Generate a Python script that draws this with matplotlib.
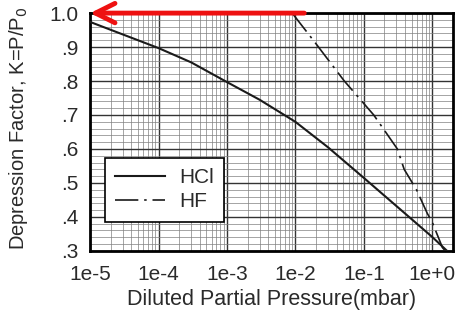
import numpy as np
import matplotlib
matplotlib.use("Agg")
import matplotlib.pyplot as plt
from matplotlib.ticker import MultipleLocator, LogLocator, NullFormatter

plt.rcParams['font.family'] = ['Liberation Sans', 'DejaVu Sans']

hcl_p = [1e-5, 1e-4, 3e-4, 1e-3, 3e-3, 1e-2, 3e-2, 1e-1, 3e-1, 1.0, 1.65]
hcl_k = [0.974, 0.897, 0.855, 0.797, 0.745, 0.68, 0.605, 0.515, 0.432, 0.341, 0.30]

hf_p = [9e-3, 2e-2, 5.2e-2, 0.14, 0.31, 0.39, 0.59, 0.85, 1.0, 1.41, 1.55]
hf_k = [1.0, 0.91, 0.80, 0.70, 0.60, 0.54, 0.48, 0.41, 0.385, 0.31, 0.30]

arrow_p = [1.35e-2, 1e-5]
arrow_k = [1.0, 1.0]

xticks = [1e-5, 1e-4, 1e-3, 1e-2, 1e-1, 1e0]
xticklabels = ['1e-5', '1e-4', '1e-3', '1e-2', '1e-1', '1e+0']
yticks = [0.3, 0.4, 0.5, 0.6, 0.7, 0.8, 0.9, 1.0]
yticklabels = ['.3', '.4', '.5', '.6', '.7', '.8', '.9', '1.0']

tc = '#2a2a2a'
fig = plt.figure(figsize=(4.62, 3.12), dpi=100)
ax = fig.add_axes([0.195, 0.196, 0.785, 0.762])
ax.set_xscale('log')
ax.set_xlim(1e-5, 2.0)
ax.set_ylim(0.3, 1.0)

ax.set_xticks(xticks)
ax.set_xticklabels(xticklabels)
ax.xaxis.set_minor_locator(LogLocator(base=10, subs=np.arange(2, 10), numticks=20))
ax.xaxis.set_minor_formatter(NullFormatter())
ax.set_yticks(yticks)
ax.set_yticklabels(yticklabels)
ax.yaxis.set_minor_locator(MultipleLocator(0.02))

ax.grid(which='major', color='#333333', linewidth=1.0)
ax.grid(which='minor', color='#808080', linewidth=0.5)
ax.tick_params(which='both', length=0, labelsize=15, labelcolor=tc)
ax.tick_params(axis='x', pad=10)
ax.tick_params(axis='y', pad=8)
for s in ax.spines.values():
    s.set_linewidth(2.0)
    s.set_color('black')

ax.plot(hcl_p, hcl_k, color='#1a1a1a', lw=1.5, label='HCl', zorder=3)
ax.plot(hf_p, hf_k, color='#1a1a1a', lw=1.2, linestyle=(0, (14, 3.5, 1.5, 3.5)), label='HF', zorder=3)

ax.annotate('', xy=(arrow_p[1], arrow_k[1]), xytext=(arrow_p[0], arrow_k[0]),
            arrowprops=dict(arrowstyle='->,head_length=1.4,head_width=0.7', color='#ee1111', lw=3.5,
                            shrinkA=0, shrinkB=0), annotation_clip=False, zorder=5)

leg = ax.legend(loc='lower left', bbox_to_anchor=(0.041, 0.122), borderaxespad=0, fontsize=15,
                frameon=True, fancybox=False, edgecolor='black', framealpha=1, borderpad=0.5,
                handlelength=2.4, labelspacing=0.25, handletextpad=0.65)
leg.get_frame().set_linewidth(1.2)
for t in leg.get_texts():
    t.set_color(tc)

fig.text(0.5 * (0.195 + 0.98), 1 - 299 / 312, 'Diluted Partial Pressure(mbar)', fontsize=15.5,
         color=tc, ha='center', va='center')
fig.text(19 / 462, 1 - 128 / 312, 'Depression Factor, K=P/P$_0$', fontsize=14.5, color=tc,
         ha='center', va='center', rotation=90)

fig.savefig('out.png', dpi=100)
